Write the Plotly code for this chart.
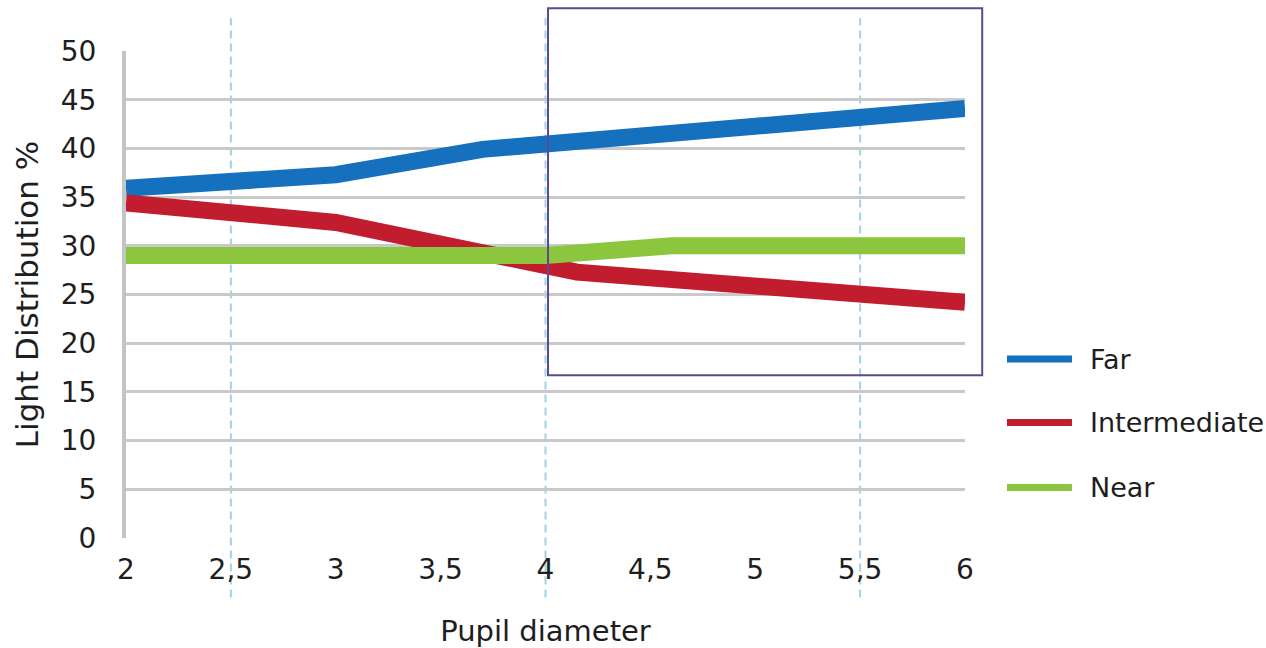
import plotly.graph_objects as go

# ---- data ----
far_x = [2, 3, 3.7, 4, 6]
far_y = [35.9, 37.3, 39.9, 40.4, 44.1]
inter_x = [2, 3, 4.15, 6]
inter_y = [34.4, 32.4, 27.3, 24.2]
near_x = [2, 4, 4.6, 6]
near_y = [29.0, 29.0, 30.0, 30.0]

series_names = ["Far", "Intermediate", "Near"]
series_colors = ["#1570be", "#c21d2f", "#8cc63f"]

x_tickvals = [2, 2.5, 3, 3.5, 4, 4.5, 5, 5.5, 6]
x_ticktext = ["2", "2,5", "3", "3,5", "4", "4,5", "5", "5,5", "6"]
y_tickvals = [0, 5, 10, 15, 20, 25, 30, 35, 40, 45, 50]
dashed_x = [2.5, 4, 5.5]
highlight_x0 = 4

FONT = "DejaVu Sans"
TXT = "#1e1e1e"

fig = go.Figure()
for name, xs, ys, col in zip(series_names, [far_x, inter_x, near_x],
                             [far_y, inter_y, near_y], series_colors):
    fig.add_trace(go.Scatter(x=xs, y=ys, name=name, mode="lines",
                             line=dict(color=col, width=17),
                             showlegend=False, hoverinfo="x+y+name"))

shapes = []
# dashed vertical guide lines
for xv in dashed_x:
    shapes.append(dict(type="line", xref="x", yref="paper", x0=xv, x1=xv,
                       y0=-0.122, y1=1.068, layer="below",
                       line=dict(color="#9fd4e6", width=2, dash="8px,5px")))
# purple highlight box (starts at x = 4 -> middle of the x range)
shapes.append(dict(type="rect", xref="paper", yref="paper",
                   x0=(highlight_x0 - 2) / 4 + 0.003, x1=1.0205, y0=0.334, y1=1.088,
                   line=dict(color="#5d4a8c", width=2), fillcolor="rgba(0,0,0,0)",
                   layer="above"))

# custom legend
legend_y = [0.3675, 0.2374, 0.1038]
annotations = []
for name, col, ly in zip(series_names, series_colors, legend_y):
    shapes.append(dict(type="line", xref="paper", yref="paper",
                       x0=1.050, x1=1.1275, y0=ly, y1=ly,
                       line=dict(color=col, width=7)))
    annotations.append(dict(text=name, xref="paper", yref="paper",
                            x=1.147, y=ly, xanchor="left", yanchor="middle",
                            showarrow=False,
                            font=dict(family=FONT, size=27, color=TXT)))

fig.update_layout(
    width=1266, height=648,
    margin=dict(l=126, r=301, t=51, b=110),
    paper_bgcolor="white", plot_bgcolor="white",
    shapes=shapes, annotations=annotations,
    font=dict(family=FONT, color=TXT),
    xaxis=dict(range=[2, 6], tickvals=x_tickvals, ticktext=x_ticktext,
               showgrid=False, zeroline=False, showline=False, ticks="",
               ticklabelstandoff=12, automargin=False,
               tickfont=dict(family=FONT, size=28, color=TXT),
               title=dict(text="Pupil diameter", standoff=38,
                          font=dict(family=FONT, size=29, color=TXT))),
    yaxis=dict(range=[0, 50], tickvals=y_tickvals,
               showgrid=True, gridcolor="#c9c9c9", gridwidth=3,
               zeroline=False, showline=True, linecolor="#c4c4c4", linewidth=4,
               ticks="", ticklabelstandoff=20, automargin=False,
               tickfont=dict(family=FONT, size=28, color=TXT),
               title=dict(text="Light Distribution %", standoff=14,
                          font=dict(family=FONT, size=31, color=TXT))),
)

fig.write_html("out.html")
